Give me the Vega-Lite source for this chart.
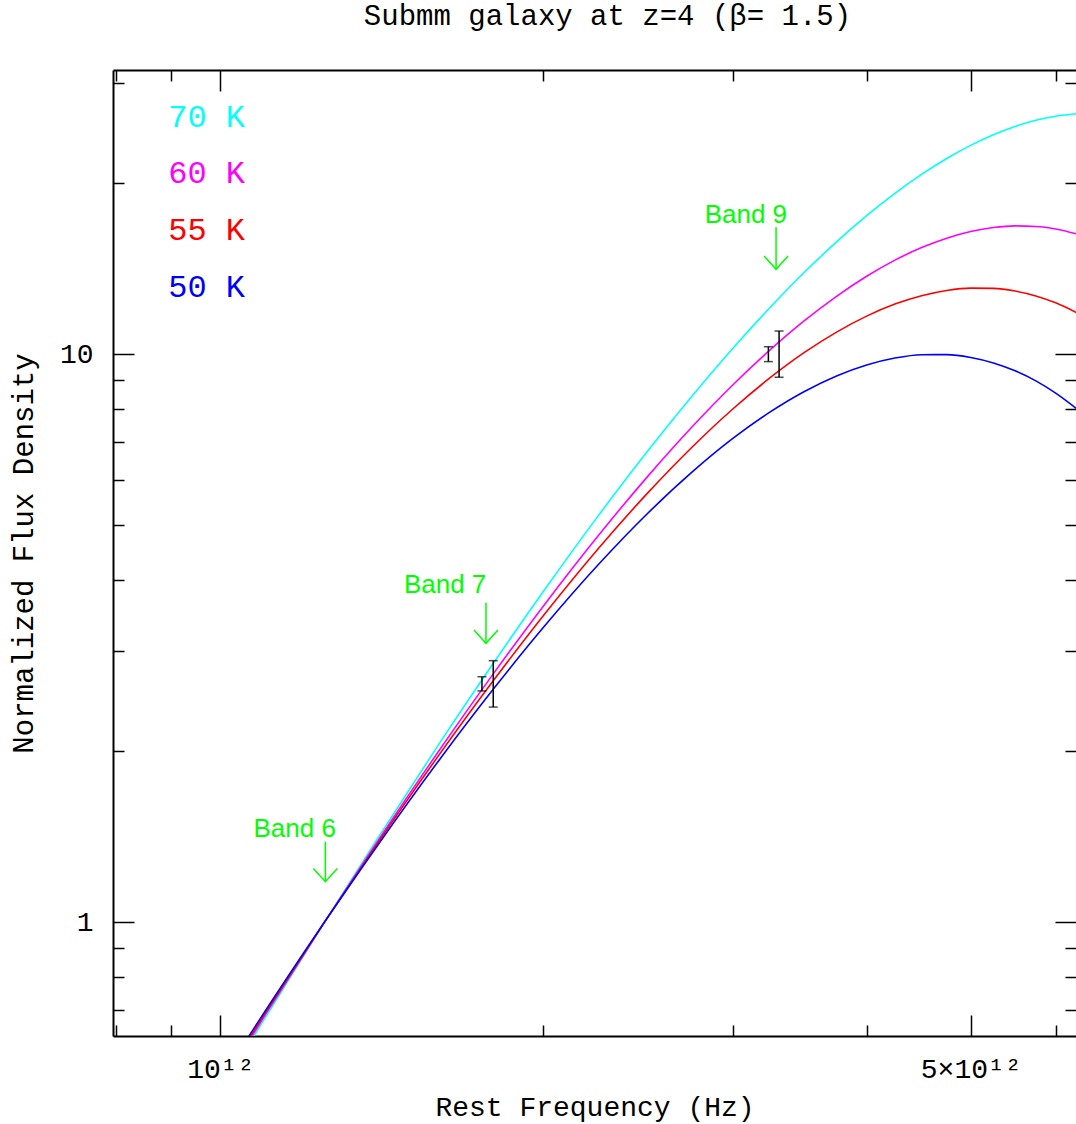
{
  "$schema": "https://vega.github.io/schema/vega-lite/v6.json",
  "width": 963,
  "height": 966,
  "autosize": {"type": "none"},
  "padding": {"left": 113, "top": 70, "right": 0, "bottom": 88},
  "background": "white",
  "title": {"text": "Submm galaxy at z=4 (β= 1.5)", "font": "Liberation Mono", "fontSize": 29, "fontWeight": "normal", "color": "black", "anchor": "middle", "baseline": "alphabetic", "offset": 15, "dx": 13},
  "config": {
    "view": {"stroke": null},
    "axis": {"grid": false, "tickColor": "black", "tickWidth": 1.5, "domainColor": "black", "domainWidth": 2, "labelFont": "Liberation Mono", "labelFontSize": 28, "labelColor": "black", "titleFont": "Liberation Mono", "titleFontSize": 28, "titleFontWeight": "normal", "titleColor": "black", "labelFlush": false, "labelOverlap": false}
  },
  "datasets": {
    "curves": [
      {"T":"70 K","nu":9.5e11,"S":0.4296},{"T":"70 K","nu":1.0e12,"S":0.5043},{"T":"70 K","nu":1.1e12,"S":0.6775},{"T":"70 K","nu":1.25e12,"S":1.0},{"T":"70 K","nu":1.4e12,"S":1.4012},{"T":"70 K","nu":1.6e12,"S":2.0643},{"T":"70 K","nu":1.8e12,"S":2.8733},{"T":"70 K","nu":2.0e12,"S":3.8232},{"T":"70 K","nu":2.25e12,"S":5.1955},{"T":"70 K","nu":2.5e12,"S":6.7432},{"T":"70 K","nu":2.75e12,"S":8.4298},{"T":"70 K","nu":3.0e12,"S":10.218},{"T":"70 K","nu":3.25e12,"S":12.062},{"T":"70 K","nu":3.5e12,"S":13.924},{"T":"70 K","nu":3.75e12,"S":15.753},{"T":"70 K","nu":4.0e12,"S":17.516},{"T":"70 K","nu":4.25e12,"S":19.174},{"T":"70 K","nu":4.5e12,"S":20.703},{"T":"70 K","nu":4.75e12,"S":22.084},{"T":"70 K","nu":5.0e12,"S":23.288},{"T":"70 K","nu":5.25e12,"S":24.310},{"T":"70 K","nu":5.5e12,"S":25.137},{"T":"70 K","nu":5.75e12,"S":25.772},{"T":"70 K","nu":6.0e12,"S":26.212},{"T":"70 K","nu":6.3e12,"S":26.497},
      {"T":"60 K","nu":9.5e11,"S":0.4390},{"T":"60 K","nu":1.0e12,"S":0.5136},{"T":"60 K","nu":1.1e12,"S":0.6850},{"T":"60 K","nu":1.25e12,"S":1.0},{"T":"60 K","nu":1.4e12,"S":1.3855},{"T":"60 K","nu":1.6e12,"S":2.0098},{"T":"60 K","nu":1.8e12,"S":2.7527},{"T":"60 K","nu":2.0e12,"S":3.6036},{"T":"60 K","nu":2.25e12,"S":4.7929},{"T":"60 K","nu":2.5e12,"S":6.0850},{"T":"60 K","nu":2.75e12,"S":7.4397},{"T":"60 K","nu":3.0e12,"S":8.8128},{"T":"60 K","nu":3.25e12,"S":10.160},{"T":"60 K","nu":3.5e12,"S":11.446},{"T":"60 K","nu":3.75e12,"S":12.635},{"T":"60 K","nu":4.0e12,"S":13.703},{"T":"60 K","nu":4.25e12,"S":14.626},{"T":"60 K","nu":4.5e12,"S":15.391},{"T":"60 K","nu":4.75e12,"S":15.990},{"T":"60 K","nu":5.0e12,"S":16.424},{"T":"60 K","nu":5.25e12,"S":16.693},{"T":"60 K","nu":5.5e12,"S":16.803},{"T":"60 K","nu":5.75e12,"S":16.767},{"T":"60 K","nu":6.0e12,"S":16.596},{"T":"60 K","nu":6.3e12,"S":16.232},
      {"T":"55 K","nu":9.5e11,"S":0.4452},{"T":"55 K","nu":1.0e12,"S":0.5197},{"T":"55 K","nu":1.1e12,"S":0.6899},{"T":"55 K","nu":1.25e12,"S":1.0},{"T":"55 K","nu":1.4e12,"S":1.3752},{"T":"55 K","nu":1.6e12,"S":1.9747},{"T":"55 K","nu":1.8e12,"S":2.6765},{"T":"55 K","nu":2.0e12,"S":3.4660},{"T":"55 K","nu":2.25e12,"S":4.5479},{"T":"55 K","nu":2.5e12,"S":5.6905},{"T":"55 K","nu":2.75e12,"S":6.8546},{"T":"55 K","nu":3.0e12,"S":7.9952},{"T":"55 K","nu":3.25e12,"S":9.0752},{"T":"55 K","nu":3.5e12,"S":10.063},{"T":"55 K","nu":3.75e12,"S":10.929},{"T":"55 K","nu":4.0e12,"S":11.659},{"T":"55 K","nu":4.25e12,"S":12.240},{"T":"55 K","nu":4.5e12,"S":12.664},{"T":"55 K","nu":4.75e12,"S":12.936},{"T":"55 K","nu":5.0e12,"S":13.060},{"T":"55 K","nu":5.25e12,"S":13.046},{"T":"55 K","nu":5.5e12,"S":12.905},{"T":"55 K","nu":5.75e12,"S":12.653},{"T":"55 K","nu":6.0e12,"S":12.304},{"T":"55 K","nu":6.3e12,"S":11.781},
      {"T":"50 K","nu":9.5e11,"S":0.4530},{"T":"50 K","nu":1.0e12,"S":0.5274},{"T":"50 K","nu":1.1e12,"S":0.6960},{"T":"50 K","nu":1.25e12,"S":1.0},{"T":"50 K","nu":1.4e12,"S":1.3628},{"T":"50 K","nu":1.6e12,"S":1.9328},{"T":"50 K","nu":1.8e12,"S":2.5859},{"T":"50 K","nu":2.0e12,"S":3.3040},{"T":"50 K","nu":2.25e12,"S":4.2609},{"T":"50 K","nu":2.5e12,"S":5.2400},{"T":"50 K","nu":2.75e12,"S":6.1955},{"T":"50 K","nu":3.0e12,"S":7.0946},{"T":"50 K","nu":3.25e12,"S":7.9000},{"T":"50 K","nu":3.5e12,"S":8.5906},{"T":"50 K","nu":3.75e12,"S":9.1481},{"T":"50 K","nu":4.0e12,"S":9.5640},{"T":"50 K","nu":4.25e12,"S":9.8374},{"T":"50 K","nu":4.5e12,"S":9.9713},{"T":"50 K","nu":4.75e12,"S":9.9754},{"T":"50 K","nu":5.0e12,"S":9.8621},{"T":"50 K","nu":5.25e12,"S":9.6462},{"T":"50 K","nu":5.5e12,"S":9.3424},{"T":"50 K","nu":5.75e12,"S":8.9677},{"T":"50 K","nu":6.0e12,"S":8.5338},{"T":"50 K","nu":6.3e12,"S":7.9655}
    ],
    "errors": [
      {"x": 1.7527e12, "lo": 2.5534, "hi": 2.7049},
      {"x": 1.7957e12, "lo": 2.3918, "hi": 2.8866},
      {"x": 3.2398e12, "lo": 9.6964, "hi": 10.300},
      {"x": 3.3150e12, "lo": 9.1011, "hi": 10.976}
    ],
    "arrows": [
      {"band": "Band 6", "x": 1.2527e12, "top": 1.3866, "tip": 1.1789, "tx": 1.1729e12, "ty": 1.4150},
      {"band": "Band 7", "x": 1.7679e12, "top": 3.6515, "tip": 3.0970, "tx": 1.6195e12, "ty": 3.7932},
      {"band": "Band 9", "x": 3.2937e12, "top": 16.710, "tip": 14.096, "tx": 3.0871e12, "ty": 16.983}
    ],
    "legend": [
      {"T": "70 K", "x": 8.943e11, "y": 25.117},
      {"T": "60 K", "x": 8.943e11, "y": 19.97},
      {"T": "55 K", "x": 8.943e11, "y": 15.87},
      {"T": "50 K", "x": 8.943e11, "y": 12.608}
    ]
  },
  "layer": [
    {
      "data": {"name": "curves"},
      "mark": {"type": "line", "strokeWidth": 1.6, "clip": true, "interpolate": "monotone"},
      "encoding": {
        "x": {"field": "nu", "type": "quantitative", "scale": {"type": "log", "domain": [7.944e11, 6.2671e12], "nice": false, "zero": false},
              "axis": {"orient": "bottom", "values": [1e12, 5e12], "tickSize": -21, "labelExpr": "datum.value < 2e12 ? '10¹²' : '5×10¹²'", "labelPadding": 62, "labelBaseline": "alphabetic", "title": "Rest Frequency (Hz)", "titleY": 79, "titleBaseline": "alphabetic", "domain": true}},
        "y": {"field": "S", "type": "quantitative", "scale": {"type": "log", "domain": [0.6309, 31.604], "nice": false, "zero": false},
              "axis": {"orient": "left", "values": [1, 10], "tickSize": -21, "labelExpr": "datum.value > 5 ? '10' : '1'", "labelPadding": 41, "title": "Normalized Flux Density", "titleX": -81, "titleBaseline": "alphabetic", "titleFontSize": 29, "domain": true}},
        "color": {"field": "T", "type": "nominal", "scale": {"domain": ["70 K", "60 K", "55 K", "50 K"], "range": ["#00ffff", "#ff00ff", "#ff0000", "#0000ff"]}, "legend": null},
        "order": {"field": "nu", "type": "quantitative"}
      }
    },
    {
      "data": {"name": "errors"},
      "mark": {"type": "rule", "color": "black", "strokeWidth": 1.5},
      "encoding": {
        "x": {"field": "x", "type": "quantitative", "scale": {"type": "log", "domain": [7.944e11, 6.2671e12], "nice": false, "zero": false},
              "axis": {"orient": "bottom", "values": [8e11, 9e11, 2e12, 3e12, 4e12, 6e12], "tickSize": -11, "labels": false, "title": null, "domain": false}},
        "y": {"field": "lo", "type": "quantitative", "scale": {"type": "log", "domain": [0.6309, 31.604], "nice": false, "zero": false},
              "axis": {"orient": "left", "values": [0.7, 0.8, 0.9, 2, 3, 4, 5, 6, 7, 8, 9, 20, 30], "tickSize": -11, "labels": false, "title": null, "domain": false}},
        "y2": {"field": "hi"}
      }
    },
    {
      "data": {"name": "errors"},
      "mark": {"type": "tick", "orient": "horizontal", "color": "black", "size": 9, "thickness": 1.5},
      "encoding": {
        "x": {"field": "x", "type": "quantitative", "scale": {"type": "log", "domain": [7.944e11, 6.2671e12], "nice": false, "zero": false},
              "axis": {"orient": "top", "values": [1e12, 5e12], "tickSize": -21, "labels": false, "title": null, "domain": true}},
        "y": {"field": "lo", "type": "quantitative", "scale": {"type": "log", "domain": [0.6309, 31.604], "nice": false, "zero": false},
              "axis": {"orient": "right", "values": [1, 10], "tickSize": -21, "labels": false, "title": null, "domain": false}}
      }
    },
    {
      "data": {"name": "errors"},
      "mark": {"type": "tick", "orient": "horizontal", "color": "black", "size": 9, "thickness": 1.5},
      "encoding": {
        "x": {"field": "x", "type": "quantitative", "scale": {"type": "log", "domain": [7.944e11, 6.2671e12], "nice": false, "zero": false},
              "axis": {"orient": "top", "values": [8e11, 9e11, 2e12, 3e12, 4e12, 6e12], "tickSize": -11, "labels": false, "title": null, "domain": false}},
        "y": {"field": "hi", "type": "quantitative", "scale": {"type": "log", "domain": [0.6309, 31.604], "nice": false, "zero": false},
              "axis": {"orient": "right", "values": [0.7, 0.8, 0.9, 2, 3, 4, 5, 6, 7, 8, 9, 20, 30], "tickSize": -11, "labels": false, "title": null, "domain": false}}
      }
    },
    {
      "data": {"name": "arrows"},
      "mark": {"type": "rule", "color": "#00ff00", "strokeWidth": 1.5},
      "encoding": {
        "x": {"field": "x", "type": "quantitative", "scale": {"type": "log", "domain": [7.944e11, 6.2671e12], "nice": false, "zero": false}, "axis": null},
        "y": {"field": "top", "type": "quantitative", "scale": {"type": "log", "domain": [0.6309, 31.604], "nice": false, "zero": false}, "axis": null},
        "y2": {"field": "tip"}
      }
    },
    {
      "data": {"name": "arrows"},
      "mark": {"type": "point", "shape": "M -1 -1.1 L 0 0 L 1 -1.1", "size": 576, "filled": false, "color": "#00ff00", "strokeWidth": 1.5, "opacity": 1},
      "encoding": {
        "x": {"field": "x", "type": "quantitative", "scale": {"type": "log", "domain": [7.944e11, 6.2671e12], "nice": false, "zero": false}, "axis": null},
        "y": {"field": "tip", "type": "quantitative", "scale": {"type": "log", "domain": [0.6309, 31.604], "nice": false, "zero": false}, "axis": null}
      }
    },
    {
      "data": {"name": "arrows"},
      "mark": {"type": "text", "font": "Liberation Sans", "fontSize": 26, "color": "#00ff00", "align": "center", "baseline": "alphabetic"},
      "encoding": {
        "x": {"field": "tx", "type": "quantitative", "scale": {"type": "log", "domain": [7.944e11, 6.2671e12], "nice": false, "zero": false}, "axis": null},
        "y": {"field": "ty", "type": "quantitative", "scale": {"type": "log", "domain": [0.6309, 31.604], "nice": false, "zero": false}, "axis": null},
        "text": {"field": "band"}
      }
    },
    {
      "data": {"name": "legend"},
      "mark": {"type": "text", "font": "Liberation Mono", "fontSize": 32, "align": "left", "baseline": "alphabetic"},
      "encoding": {
        "x": {"field": "x", "type": "quantitative", "scale": {"type": "log", "domain": [7.944e11, 6.2671e12], "nice": false, "zero": false}, "axis": null},
        "y": {"field": "y", "type": "quantitative", "scale": {"type": "log", "domain": [0.6309, 31.604], "nice": false, "zero": false}, "axis": null},
        "text": {"field": "T"},
        "color": {"field": "T", "type": "nominal", "scale": {"domain": ["70 K", "60 K", "55 K", "50 K"], "range": ["#00ffff", "#ff00ff", "#ff0000", "#0000ff"]}, "legend": null}
      }
    }
  ],
  "resolve": {"axis": {"x": "independent", "y": "independent"}}
}
